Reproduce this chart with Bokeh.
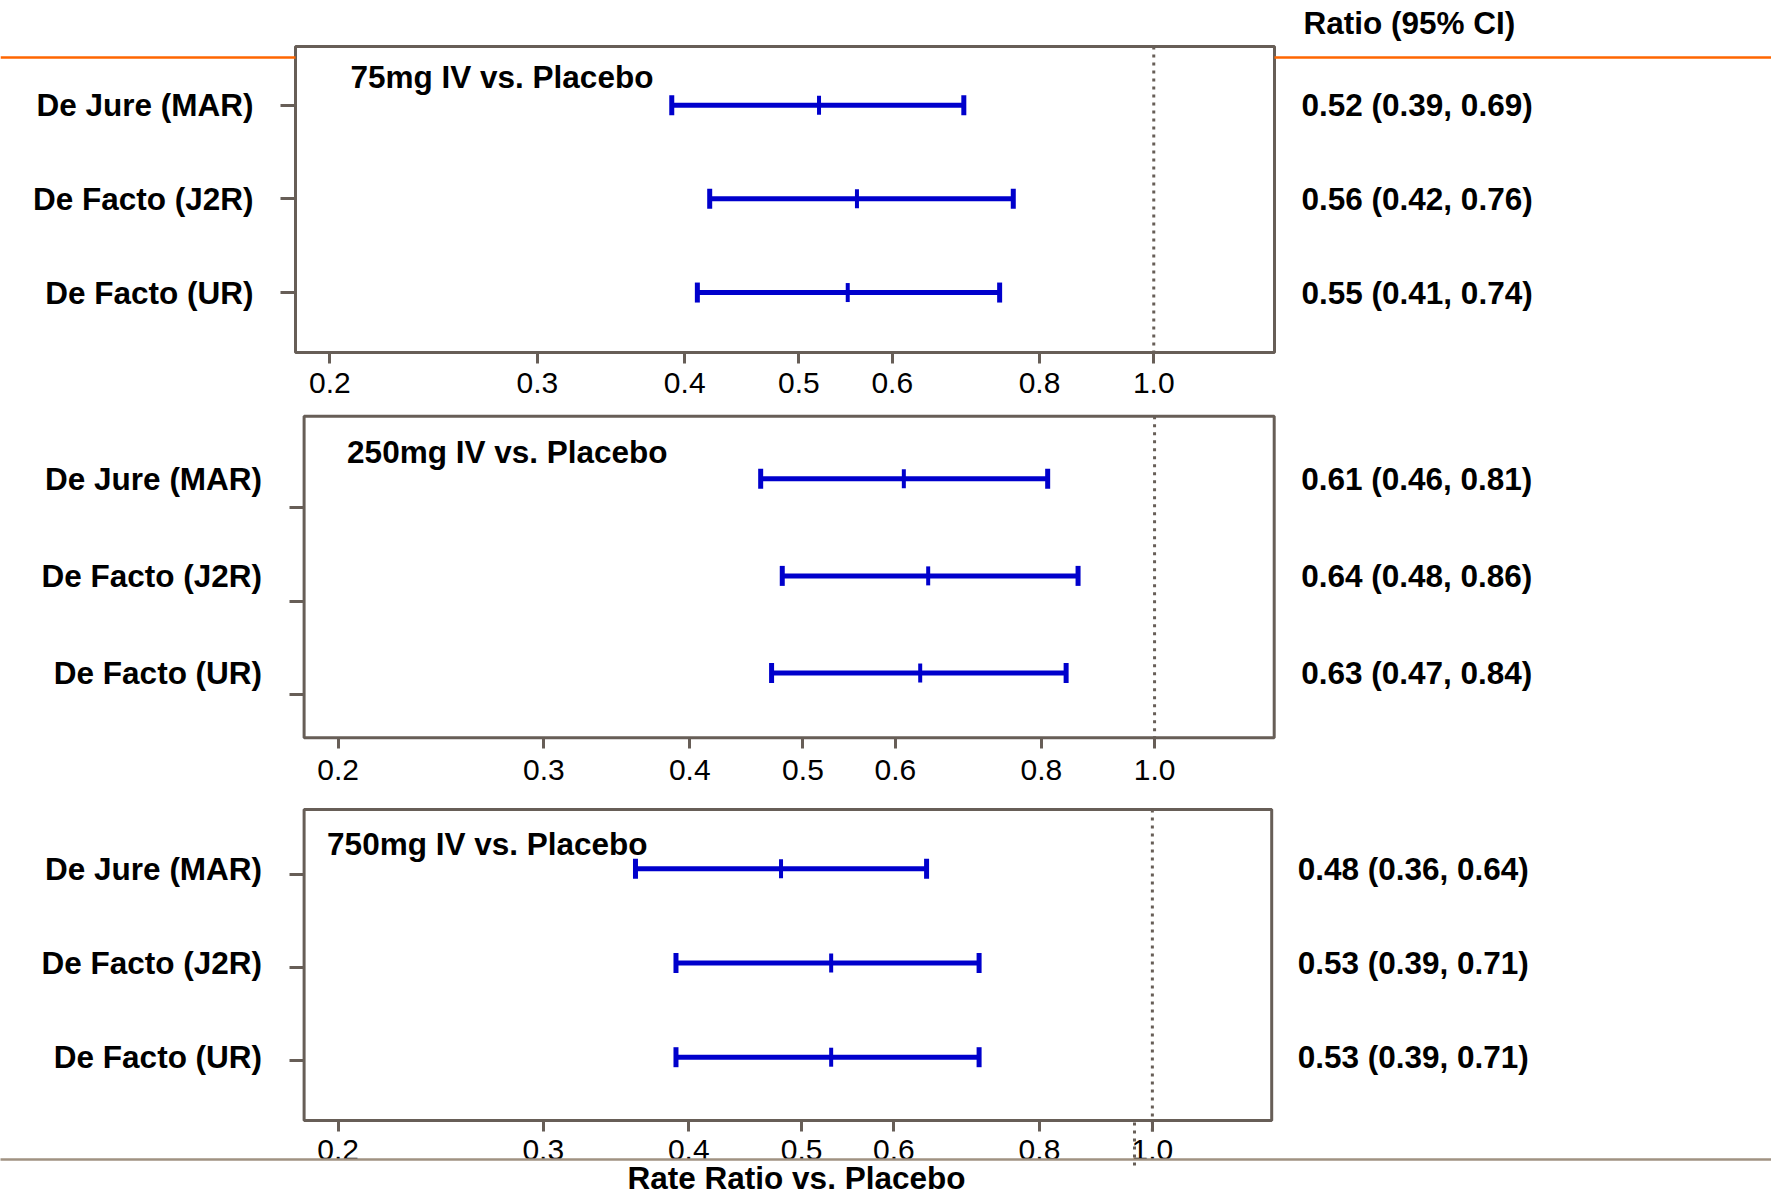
import math
from bokeh.plotting import figure
from bokeh.models import (Range1d, FixedTicker, PrintfTickFormatter, LogAxis,
                          LinearAxis, ColumnDataSource)
from bokeh.core.properties import value
from bokeh.layouts import column
from bokeh.embed import file_html
from bokeh.resources import INLINE

# ---------------- data ----------------
CATEGORIES = ["De Jure (MAR)", "De Facto (J2R)", "De Facto (UR)"]
PANEL_TITLES = ["75mg IV vs. Placebo", "250mg IV vs. Placebo", "750mg IV vs. Placebo"]

RATIO_75 = [0.52, 0.56, 0.55]
LOWER_75 = [0.39, 0.42, 0.41]
UPPER_75 = [0.69, 0.76, 0.74]

RATIO_250 = [0.61, 0.64, 0.63]
LOWER_250 = [0.46, 0.48, 0.47]
UPPER_250 = [0.81, 0.86, 0.84]

RATIO_750 = [0.48, 0.53, 0.53]
LOWER_750 = [0.36, 0.39, 0.39]
UPPER_750 = [0.64, 0.71, 0.71]

X_TICKS = [0.2, 0.3, 0.4, 0.5, 0.6, 0.8, 1.0]
X_LIMITS = (0.187, 1.266)
REF_VALUE = 1.0
HEADER = "Ratio (95% CI)"
X_TITLE = "Rate Ratio vs. Placebo"

# ---------------- style / layout (pixels) ----------------
W = 1771
FONT = "Liberation Sans"
FSB = "31.5px"
FSR = "30px"
FRAME = "#675E57"
BLUE = "#0000CC"
ORANGE = "#FF6600"
BASE = "#A09282"

PANELS = [
    dict(h=404, box=(295.0, 1274.0, 46.0, 352.0), ylim=(0.3735, 3.64),
         tick_shift=[0.0, 0.0, 0.0], title_dx=55, title_y=76.7, text_dx=27,
         xlab_standoff=9),
    dict(h=386, box=(303.6, 1273.7, 11.7, 333.3), ylim=(0.356, 3.667),
         tick_shift=[0.30, 0.26, 0.22], title_dx=43, title_y=47.7, text_dx=27,
         xlab_standoff=11),
    dict(h=406, box=(303.6, 1271.2, 19.0, 330.0), ylim=(0.37, 3.672),
         tick_shift=[0.057, 0.048, 0.035], title_dx=23, title_y=53.3, text_dx=26,
         xlab_standoff=8),
]


def bold_text(p, x, y, text, align, dx=0):
    p.text(x=[x], y=[y], text=[text], x_offset=dx, text_align=align,
           text_baseline="middle", text_font=value(FONT), text_font_size=value(FSB),
           text_font_style="bold", text_color="black")


def make_panel(i, title, ratio, lower, upper):
    G = PANELS[i]
    bl, br, bt, bb = G["box"]
    yt, yb = G["ylim"]
    H = G["h"]
    lx0, lx1 = math.log10(X_LIMITS[0]), math.log10(X_LIMITS[1])
    ppd = (br - bl) / (lx1 - lx0)
    ppu = (bb - bt) / (yb - yt)

    def xv(px):
        return 10 ** (lx0 + (px - bl) / ppd)

    def yv(px):
        return yt + (px - bt) / ppu

    p = figure(width=W, height=H, x_axis_type="log",
               x_range=Range1d(xv(0), xv(W)), y_range=Range1d(yv(H), yv(0)),
               x_axis_location=None, y_axis_location=None,
               toolbar_location=None, output_backend="svg", title=None,
               min_border=0, min_border_left=0, min_border_right=0,
               min_border_top=0, min_border_bottom=0,
               background_fill_color="white", border_fill_color="white")
    p.grid.visible = False
    p.outline_line_color = None

    rows = list(range(1, len(CATEGORIES) + 1))

    # panel box
    p.quad(left=[X_LIMITS[0]], right=[X_LIMITS[1]], top=[yt], bottom=[yb],
           fill_color=None, line_color=FRAME, line_width=3)

    # x axis on the box's lower edge
    xa = LogAxis(fixed_location=yb)
    xa.ticker = FixedTicker(ticks=X_TICKS)
    xa.formatter = PrintfTickFormatter(format="%.1f")
    xa.axis_line_color = None
    xa.major_tick_out = 11
    xa.major_tick_in = 0
    xa.major_tick_line_width = 3
    xa.major_tick_line_color = FRAME
    xa.minor_tick_line_color = None
    xa.major_label_text_font = FONT
    xa.major_label_text_font_size = FSR
    xa.major_label_text_color = "black"
    xa.major_label_standoff = G["xlab_standoff"]
    p.add_layout(xa, "below")

    # y axis tick marks on the box's left edge
    ya = LinearAxis(fixed_location=X_LIMITS[0])
    ya.ticker = FixedTicker(ticks=[r + s for r, s in zip(rows, G["tick_shift"])])
    ya.axis_line_color = None
    ya.major_tick_out = 15
    ya.major_tick_in = 0
    ya.major_tick_line_width = 3
    ya.major_tick_line_color = FRAME
    ya.minor_tick_line_color = None
    ya.major_label_text_color = None
    ya.major_label_text_font_size = "1px"
    p.add_layout(ya, "left")

    # reference line at 1.0
    p.segment(x0=[REF_VALUE], y0=[yt], x1=[REF_VALUE], y1=[yb], line_color=FRAME,
              line_width=3, line_dash="3 5")

    # confidence intervals
    src = ColumnDataSource(dict(y=rows, ratio=ratio, lower=lower, upper=upper,
                                name=CATEGORIES,
                                txt=[f"{e:.2f} ({l:.2f}, {u:.2f})"
                                     for e, l, u in zip(ratio, lower, upper)]))
    p.segment(x0="lower", y0="y", x1="upper", y1="y", source=src,
              line_color=BLUE, line_width=5)
    p.scatter(x="lower", y="y", source=src, marker="dash", angle=math.pi / 2,
              size=20, line_color=BLUE, line_width=5)
    p.scatter(x="upper", y="y", source=src, marker="dash", angle=math.pi / 2,
              size=20, line_color=BLUE, line_width=5)
    p.scatter(x="ratio", y="y", source=src, marker="dash", angle=math.pi / 2,
              size=19, line_color=BLUE, line_width=4)

    # category names (left of box) and ratio texts (right of box)
    src.data["xl"] = [X_LIMITS[0]] * len(rows)
    src.data["xr"] = [X_LIMITS[1]] * len(rows)
    p.text(x="xl", y="y", text="name", source=src, x_offset=-42, text_align="right",
           text_baseline="middle", text_font=value(FONT), text_font_size=value(FSB),
           text_font_style="bold", text_color="black")
    p.text(x="xr", y="y", text="txt", source=src, x_offset=G["text_dx"],
           text_align="left", text_baseline="middle", text_font=value(FONT),
           text_font_size=value(FSB), text_font_style="bold", text_color="black")

    # panel title
    bold_text(p, X_LIMITS[0], yv(G["title_y"]), title, "left", G["title_dx"])

    return p, xv, yv


p1, xv1, yv1 = make_panel(0, PANEL_TITLES[0], RATIO_75, LOWER_75, UPPER_75)
p2, xv2, yv2 = make_panel(1, PANEL_TITLES[1], RATIO_250, LOWER_250, UPPER_250)
p3, xv3, yv3 = make_panel(2, PANEL_TITLES[2], RATIO_750, LOWER_750, UPPER_750)

# header and orange rule (top panel)
bold_text(p1, X_LIMITS[1], yv1(22), HEADER, "left", 29)
p1.segment(x0=[xv1(0), X_LIMITS[1]], y0=[yv1(57)] * 2, x1=[X_LIMITS[0], xv1(W)],
           y1=[yv1(57)] * 2, line_color=ORANGE, line_width=2.5)

# bottom rule, x title and dotted stubs (bottom panel)
p3.segment(x0=[REF_VALUE], y0=[PANELS[2]["ylim"][1]], x1=[REF_VALUE], y1=[yv3(343)],
           line_color=FRAME, line_width=3, line_dash="3 5")
p3.segment(x0=[xv3(1134)], y0=[yv3(332)], x1=[xv3(1134)], y1=[yv3(376)],
           line_color=FRAME, line_width=3, line_dash="3 5")
p3.segment(x0=[xv3(0)], y0=[yv3(369)], x1=[xv3(W)], y1=[yv3(369)],
           line_color=BASE, line_width=2.5, level="overlay")
p3.text(x=[xv3(796)], y=[yv3(387)], text=[X_TITLE], text_align="center",
        text_baseline="middle", text_font=value(FONT), text_font_size=value(FSB),
        text_font_style="bold", text_color="black")

layout = column(p1, p2, p3, spacing=0)
open("out.html", "w").write(file_html(layout, INLINE))
